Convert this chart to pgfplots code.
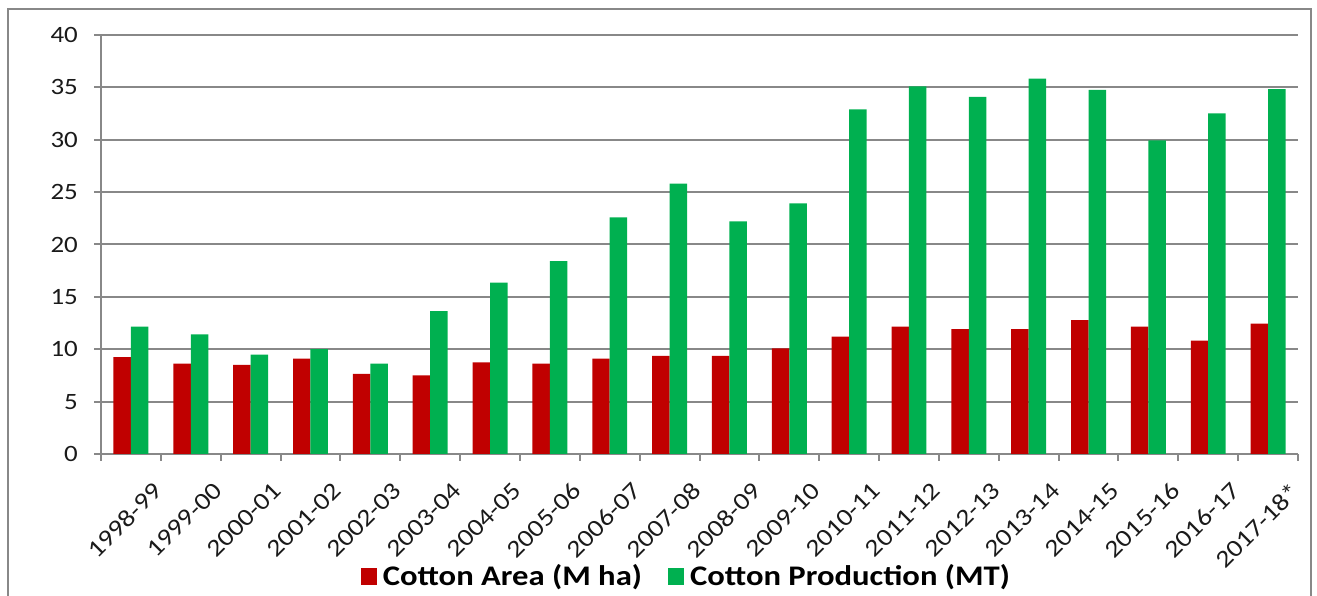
\documentclass[border=0pt]{standalone}
\usepackage{fontspec}
\setmainfont{Carlito}[FakeStretch=1.15]
\usepackage{pgfplots}
\pgfplotsset{compat=1.18}
\definecolor{cred}{HTML}{C00000}
\definecolor{cgreen}{HTML}{00B050}
\definecolor{gridgray}{HTML}{888888}
\definecolor{txt}{HTML}{1A1A1A}
\begin{document}
\begin{tikzpicture}[x=1bp,y=1bp]
\draw[gridgray, line width=2bp] (8,-20) rectangle (1311,587);
\begin{axis}[
  at={(101bp,142bp)}, anchor=south west,
  scale only axis, width=1197bp, height=419bp,
  ymin=0, ymax=40, ytick={0,5,...,40},
  xmin=-0.5, xmax=19.5,
  ybar=0pt, bar width=0.292,
  xtick={0,...,19},
  xticklabels={1998-99,1999-00,2000-01,2001-02,2002-03,2003-04,2004-05,2005-06,2006-07,2007-08,2008-09,2009-10,2010-11,2011-12,2012-13,2013-14,2014-15,2015-16,2016-17,2017-18*},
  minor xtick={-0.5,0.5,...,19.5},
  axis x line*=bottom, axis y line*=left,
  axis line style={gridgray, line width=2bp},
  tick align=outside,
  major tick style={gridgray, line width=2bp},
  minor tick style={gridgray, line width=2bp},
  xtick style={draw=none},
  minor x tick style={draw=gridgray},
  minor tick length=7bp,
  major tick length=7bp,
  ymajorgrids,
  major grid style={gridgray, line width=2bp},
  /pgf/number format/assume math mode=true,
  yticklabel style={font=\fontsize{23.5}{23.5}\selectfont, text=txt, inner sep=0pt, xshift=-16bp},
  xticklabel style={font=\fontsize{24.5}{24.5}\selectfont, text=txt, rotate=45, anchor=north east, inner sep=0pt, xshift=1bp, yshift=-29bp},
  legend style={at={(0.489,-0.2912)}, anchor=center, draw=none, fill=none,
    legend columns=2, font=\bfseries\fontsize{28.5}{28.5}\selectfont, text=black,
    nodes={inner xsep=2bp, inner ysep=0bp},
    /tikz/every odd column/.append style={column sep=4bp},
    /tikz/every even column/.append style={column sep=24bp},
    legend cell align=left},
  legend image code/.code={\fill[#1] (0bp,-8.5bp) rectangle (16bp,8.5bp);},
]
\addplot[fill=cred, draw=none] coordinates {
(0,9.24) (1,8.62) (2,8.50) (3,9.10) (4,7.64) (5,7.51) (6,8.75) (7,8.62) (8,9.10) (9,9.36)
(10,9.36) (11,10.09) (12,11.20) (13,12.15) (14,11.93) (15,11.93) (16,12.79) (17,12.15) (18,10.82) (19,12.44)};
\addplot[fill=cgreen, draw=none] coordinates {
(0,12.15) (1,11.42) (2,9.48) (3,10.00) (4,8.62) (5,13.65) (6,16.36) (7,18.42) (8,22.60) (9,25.80)
(10,22.21) (11,23.93) (12,32.90) (13,35.10) (14,34.10) (15,35.83) (16,34.75) (17,29.95) (18,32.52) (19,34.82)};
\legend{Cotton Area (M ha), Cotton Production (MT)}
\end{axis}
\pgfresetboundingbox
\useasboundingbox (0,0) rectangle (1317,596);
\end{tikzpicture}
\end{document}
